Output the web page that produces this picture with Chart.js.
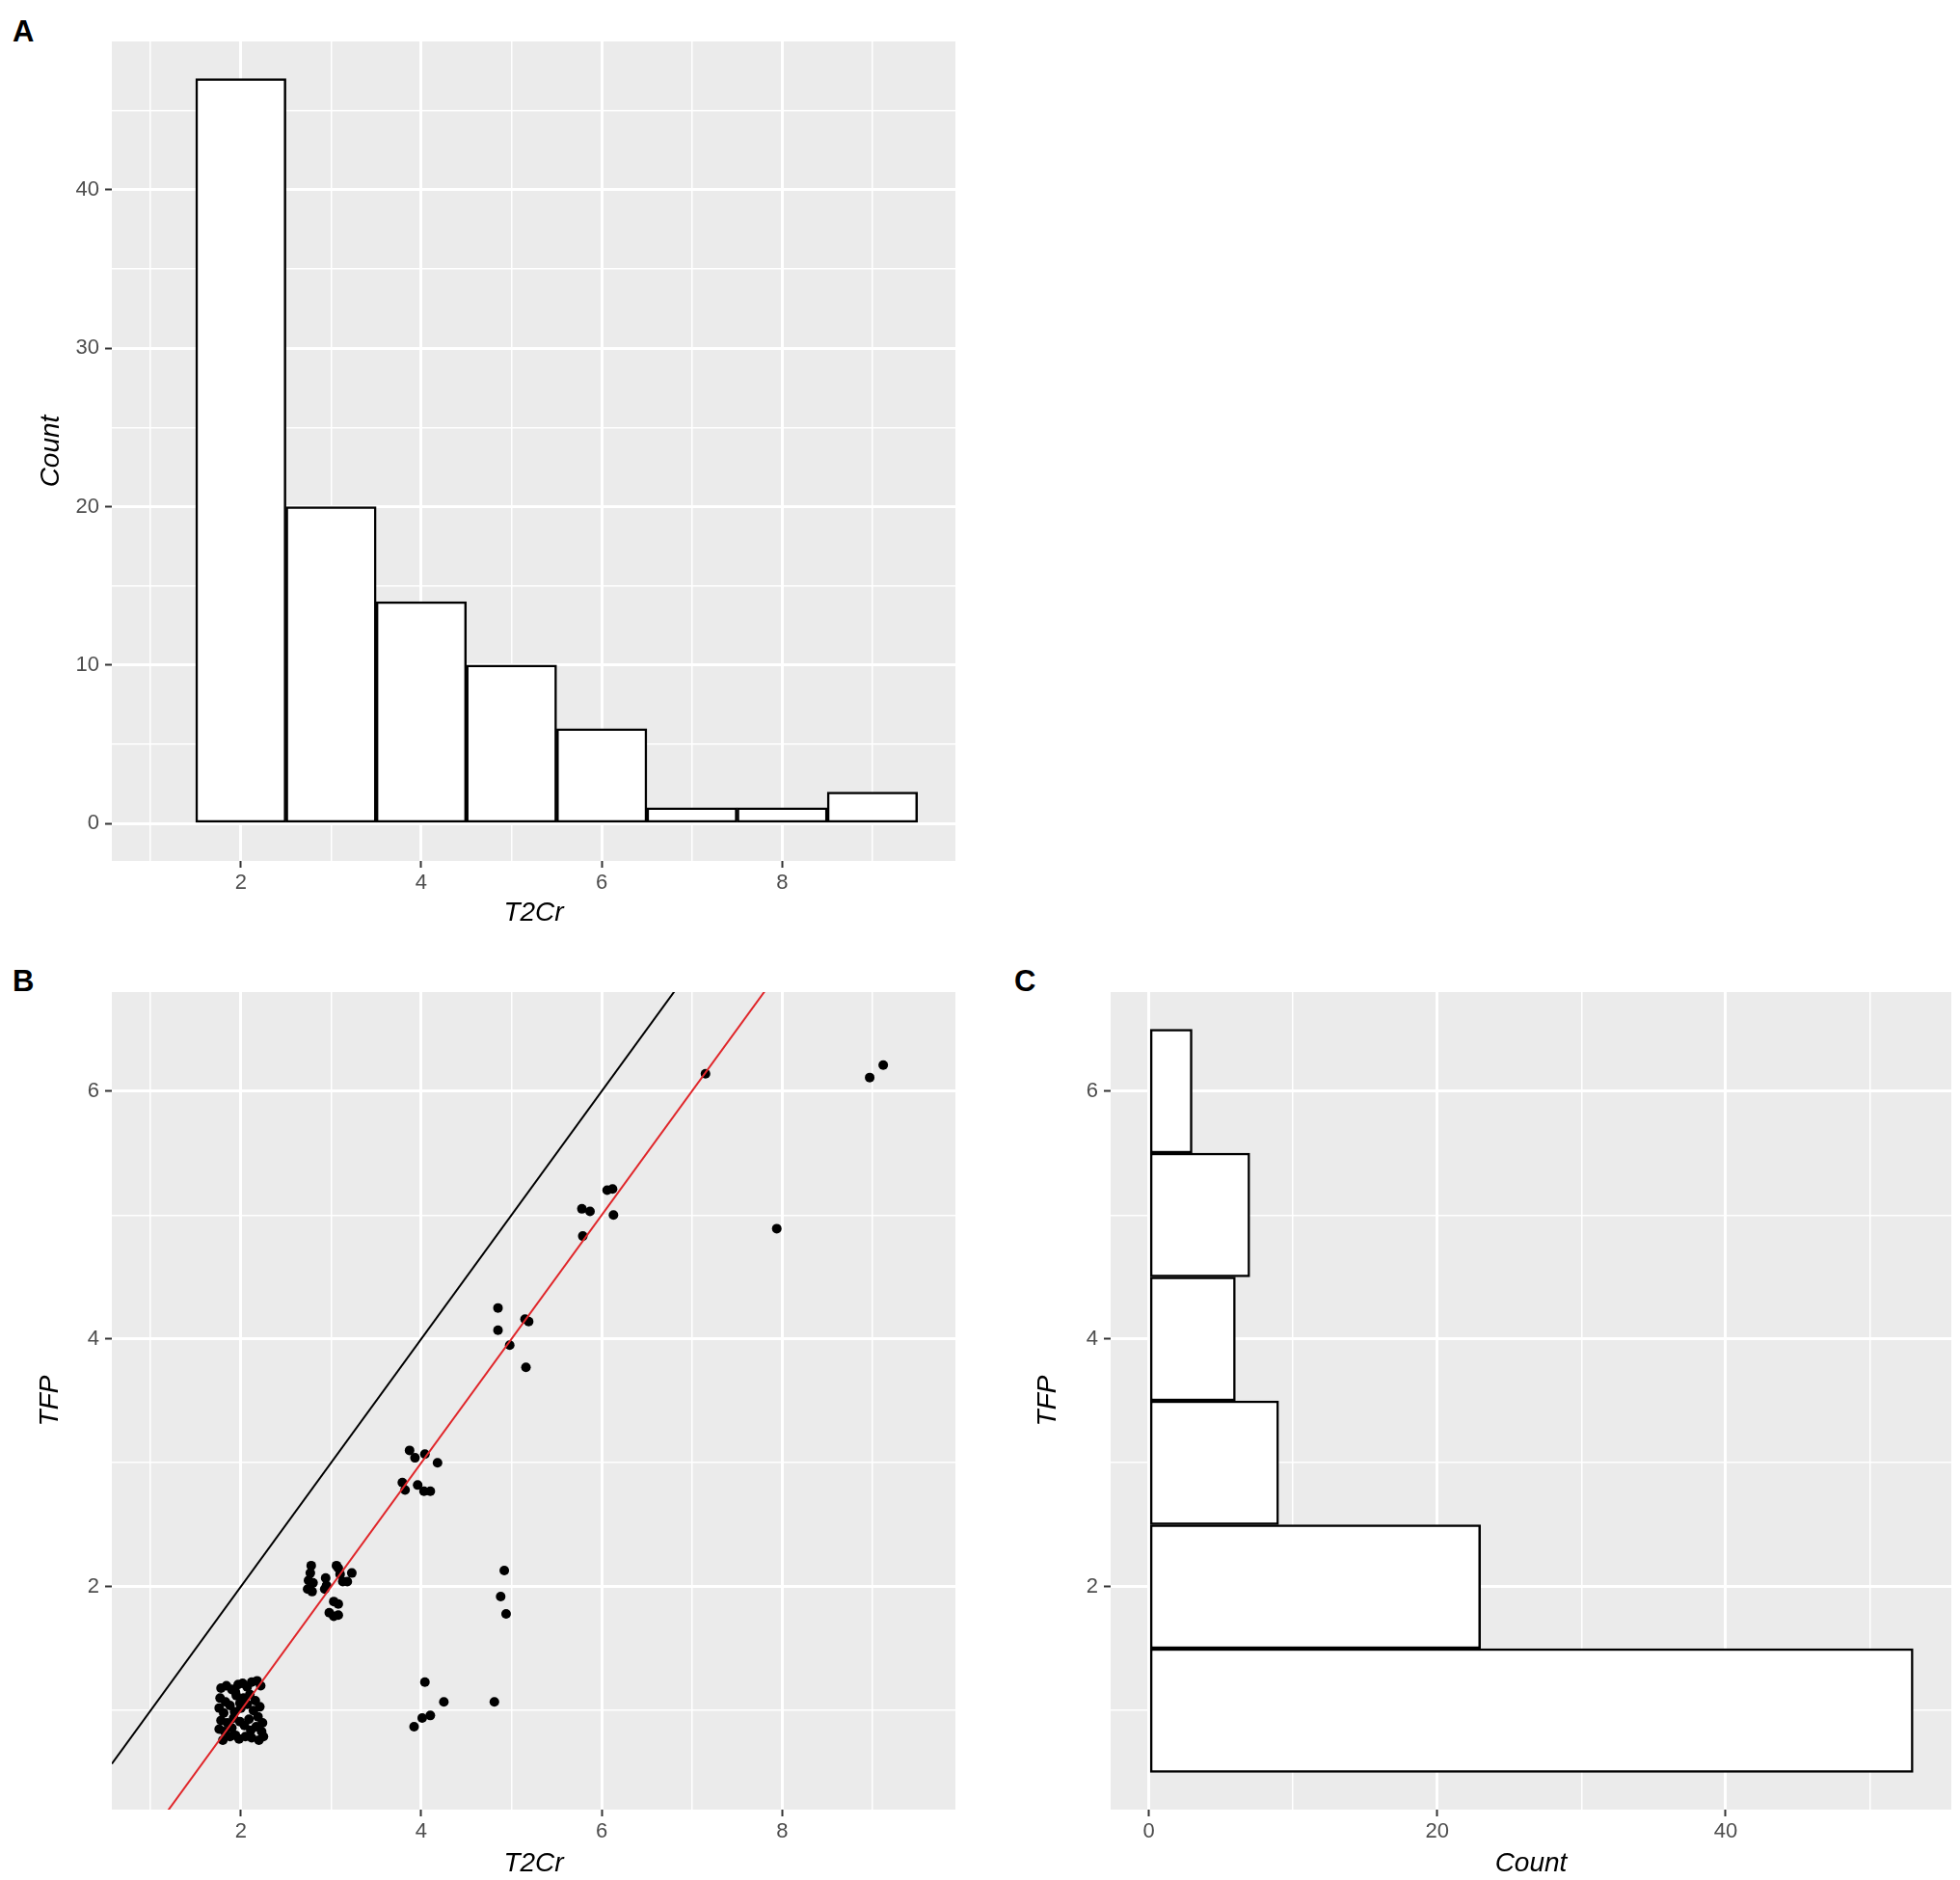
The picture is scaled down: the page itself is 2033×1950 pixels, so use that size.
<!DOCTYPE html>
<html>
<head>
<meta charset="utf-8">
<script src="https://cdn.jsdelivr.net/npm/chart.js@4"></script>
<style>
  html, body { margin: 0; padding: 0; background: #fff; }
  body { width: 2033px; height: 1950px; position: relative; overflow: hidden; font-family: "Liberation Sans", Arial, sans-serif; }
  .panel { position: absolute; }
  .letter { position: absolute; font-weight: bold; font-size: 31px; line-height: 31px; color: #000; }
</style>
</head>
<body>
<div class="letter" style="left:13px; top:17px;">A</div>
<div class="letter" style="left:13px; top:1002px;">B</div>
<div class="letter" style="left:1052px; top:1002px;">C</div>

<div class="panel" style="left:0; top:0; width:1016px; height:975px;"><canvas id="histT2Cr"></canvas></div>
<div class="panel" style="left:0; top:975px; width:1016px; height:975px;"><canvas id="scatter"></canvas></div>
<div class="panel" style="left:1016px; top:975px; width:1017px; height:975px;"><canvas id="histTFP"></canvas></div>

<script>
// --- histogram of T2Cr (panel A) ---
const T2CR_BINS = [2, 3, 4, 5, 6, 7, 8, 9];
const T2CR_COUNTS = [47, 20, 14, 10, 6, 1, 1, 2];

// --- histogram of TFP (panel C) ---
const TFP_BINS = [1, 2, 3, 4, 5, 6];
const TFP_COUNTS = [53, 23, 9, 6, 7, 3];

// --- jittered scatter (panel B), one row per cluster ---
const SCATTER_T2CR = [
  1.78, 1.84, 1.90, 1.97, 2.02, 2.07, 2.12, 2.18, 2.22, 1.77, 1.83, 1.95, 2.03, 2.10, 2.16,
  1.76, 1.81, 1.88, 1.93, 2.00, 2.07, 2.14, 2.21, 1.78, 1.85, 1.92, 1.99, 2.09, 2.19, 2.24,
  1.76, 1.82, 1.90, 1.94, 2.04, 2.11, 2.17, 2.23, 1.80, 1.88, 1.98, 2.05, 2.12, 2.20, 2.25, 1.94, 1.99,
  2.78, 2.77, 2.75, 2.74, 2.79, 2.80, 2.94, 2.95, 2.93, 3.06, 3.08, 3.10, 3.23, 3.18, 3.13, 3.03, 3.08, 2.98, 3.03, 3.08,
  3.87, 3.93, 4.04, 4.18, 3.79, 3.82, 3.96, 4.03, 4.10,
  3.92, 4.04, 4.01, 4.10, 4.25,
  4.85, 4.85, 4.98, 5.15, 5.19, 5.16,
  4.92, 4.88, 4.94,
  4.81,
  5.78, 5.87, 6.06, 6.12, 6.13, 5.79,
  7.15, 7.94, 8.97, 9.12
];
const SCATTER_TFP = [
  1.18, 1.20, 1.17, 1.21, 1.22, 1.19, 1.23, 1.24, 1.20, 1.10, 1.07, 1.12, 1.10, 1.13, 1.08,
  1.02, 0.98, 1.04, 0.99, 1.02, 1.05, 1.00, 1.03, 0.92, 0.90, 0.94, 0.91, 0.93, 0.95, 0.90,
  0.85, 0.83, 0.86, 0.80, 0.88, 0.84, 0.87, 0.83, 0.76, 0.79, 0.77, 0.79, 0.78, 0.76, 0.79, 1.15, 1.06,
  2.17, 2.11, 2.05, 1.98, 1.96, 2.03, 2.07, 2.01, 1.98, 2.17, 2.15, 2.10, 2.11, 2.04, 2.04, 1.88, 1.86, 1.79, 1.76, 1.77,
  3.10, 3.04, 3.07, 3.00, 2.84, 2.78, 2.82, 2.77, 2.77,
  0.87, 1.23, 0.94, 0.96, 1.07,
  4.25, 4.07, 3.95, 4.16, 4.14, 3.77,
  2.13, 1.92, 1.78,
  1.07,
  5.05, 5.03, 5.20, 5.21, 5.00, 4.83,
  6.14, 4.89, 6.11, 6.21
];

// reference lines: identity (black) and fitted (red)
const LINE_INTERCEPTS = [0, -1];
const LINE_SLOPES = [1, 1];
const LINE_COLORS = ['#000000', '#e0262a'];

// axis ranges and ticks
const T2CR_RANGE = [0.57, 9.92];
const TFP_RANGE = [0.2, 6.8];
const COUNT_A_RANGE = [-2.35, 49.35];
const COUNT_C_RANGE = [-2.65, 55.65];

const T2CR_MAJOR = [2, 4, 6, 8];
const T2CR_MINOR = [1, 3, 5, 7, 9];
const COUNT_A_MAJOR = [0, 10, 20, 30, 40];
const COUNT_A_MINOR = [5, 15, 25, 35, 45];
const TFP_MAJOR = [2, 4, 6];
const TFP_MINOR = [1, 3, 5];
const COUNT_C_MAJOR = [0, 20, 40];
const COUNT_C_MINOR = [10, 30, 50];

const FONT = '"Liberation Sans", Arial, sans-serif';
const PANEL_BG = '#EBEBEB';

// grey panel behind the grid, like ggplot's theme_grey
const panelBackground = {
  id: 'panelBackground',
  beforeDraw(chart) {
    const { ctx, chartArea: a } = chart;
    ctx.save();
    ctx.fillStyle = PANEL_BG;
    ctx.fillRect(a.left, a.top, a.right - a.left, a.bottom - a.top);
    ctx.restore();
  }
};

// builds a linear axis with major + minor white grid lines
function ggAxis(range, major, minor, title, fixedSize, horizontal, titlePad) {
  const all = major.concat(minor).sort((a, b) => a - b);
  return {
    type: 'linear',
    min: range[0],
    max: range[1],
    offset: false,
    afterBuildTicks: scale => { scale.ticks = all.map(v => ({ value: v })); },
    afterFit: scale => {
      if (horizontal) scale.height = fixedSize; else scale.width = fixedSize;
    },
    border: { display: false },
    grid: {
      offset: false,
      color: '#ffffff',
      lineWidth: ctx => major.includes(ctx.tick.value) ? 3 : 1.5,
      drawTicks: true,
      tickLength: 7,
      tickWidth: 2,
      tickColor: ctx => major.includes(ctx.tick.value) ? '#333333' : 'rgba(0,0,0,0)'
    },
    ticks: {
      autoSkip: false,
      maxRotation: 0,
      padding: horizontal ? 3 : 6,
      color: '#4D4D4D',
      font: { family: FONT, size: 22 },
      callback: v => major.includes(v) ? String(v) : ''
    },
    title: {
      display: true,
      text: title,
      color: '#000000',
      font: { family: FONT, size: 28, style: 'italic' },
      padding: titlePad
    }
  };
}

const baseOptions = (padding) => ({
  responsive: true,
  maintainAspectRatio: false,
  animation: false,
  layout: { padding: padding },
  plugins: { legend: { display: false }, tooltip: { enabled: false } }
});

// --- Panel A: T2Cr histogram ---
new Chart(document.getElementById('histT2Cr'), {
  type: 'bar',
  data: {
    datasets: [{
      data: T2CR_BINS.map((b, i) => ({ x: b, y: T2CR_COUNTS[i] })),
      backgroundColor: '#ffffff',
      borderColor: '#000000',
      borderWidth: 2.5,
      borderSkipped: false,
      barPercentage: 1,
      categoryPercentage: 1
    }]
  },
  options: {
    ...baseOptions({ top: 43, right: 25, left: 0, bottom: 0 }),
    scales: {
      x: ggAxis(T2CR_RANGE, T2CR_MAJOR, T2CR_MINOR, 'T2Cr', 82, true, { top: 0, bottom: 11 }),
      y: ggAxis(COUNT_A_RANGE, COUNT_A_MAJOR, COUNT_A_MINOR, 'Count', 116, false, { top: 36, bottom: 0 })
    }
  },
  plugins: [panelBackground]
});

// --- Panel B: scatter with reference lines ---
const lineSets = LINE_INTERCEPTS.map((a, i) => ({
  type: 'line',
  data: T2CR_RANGE.map(x => ({ x: x, y: a + LINE_SLOPES[i] * x })),
  borderColor: LINE_COLORS[i],
  borderWidth: 2,
  pointRadius: 0,
  fill: false,
  tension: 0
})).reverse(); // red first so it is painted on top

new Chart(document.getElementById('scatter'), {
  type: 'scatter',
  data: {
    datasets: lineSets.concat([{
      data: SCATTER_T2CR.map((x, i) => ({ x: x, y: SCATTER_TFP[i] })),
      backgroundColor: '#000000',
      borderWidth: 0,
      pointRadius: 5
    }])
  },
  options: {
    ...baseOptions({ top: 54, right: 25, left: 0, bottom: 0 }),
    scales: {
      x: ggAxis(T2CR_RANGE, T2CR_MAJOR, T2CR_MINOR, 'T2Cr', 73, true, { top: 0, bottom: 0 }),
      y: ggAxis(TFP_RANGE, TFP_MAJOR, TFP_MINOR, 'TFP', 116, false, { top: 35, bottom: 0 })
    }
  },
  plugins: [panelBackground]
});

// --- Panel C: TFP histogram, horizontal ---
new Chart(document.getElementById('histTFP'), {
  type: 'bar',
  data: {
    datasets: [{
      data: TFP_BINS.map((b, i) => ({ x: TFP_COUNTS[i], y: b })),
      backgroundColor: '#ffffff',
      borderColor: '#000000',
      borderWidth: 2.5,
      borderSkipped: false,
      barPercentage: 1,
      categoryPercentage: 1
    }]
  },
  options: {
    ...baseOptions({ top: 54, right: 9, left: 0, bottom: 0 }),
    indexAxis: 'y',
    scales: {
      x: ggAxis(COUNT_C_RANGE, COUNT_C_MAJOR, COUNT_C_MINOR, 'Count', 73, true, { top: 0, bottom: 0 }),
      y: ggAxis(TFP_RANGE, TFP_MAJOR, TFP_MINOR, 'TFP', 136, false, { top: 54, bottom: 0 })
    }
  },
  plugins: [panelBackground]
});
</script>
</body>
</html>
